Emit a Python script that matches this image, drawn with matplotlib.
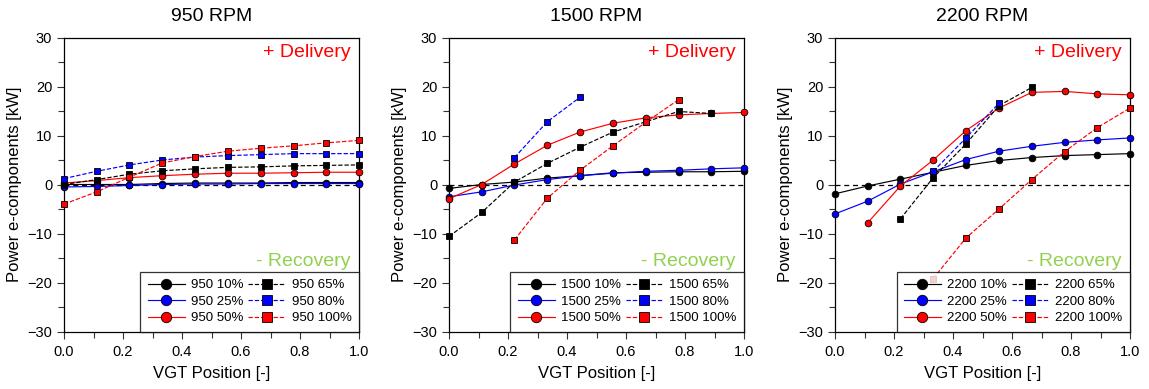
import numpy as np
import matplotlib
matplotlib.use("Agg")
import matplotlib.pyplot as plt
from matplotlib.ticker import MultipleLocator, FormatStrFormatter

plt.rcParams['font.family'] = ['Liberation Sans', 'DejaVu Sans']

vgt = [0.0, 0.111, 0.222, 0.333, 0.444, 0.556, 0.667, 0.778, 0.889, 1.0]

rpms = ["950", "1500", "2200"]
loads = ["10%", "25%", "50%", "65%", "80%", "100%"]

# 950 RPM
p950_10 = [0.0, 0.0, 0.0, 0.2, 0.3, 0.3, 0.3, 0.4, 0.4, 0.4]
p950_25 = [-0.5, -0.4, -0.2, 0.0, 0.1, 0.1, 0.2, 0.2, 0.2, 0.2]
p950_50 = [0.3, 0.8, 1.4, 1.8, 2.1, 2.3, 2.3, 2.4, 2.5, 2.5]
p950_65 = [0.0, 1.0, 2.1, 2.8, 3.2, 3.5, 3.6, 3.8, 3.9, 4.0]
p950_80 = [1.2, 2.7, 4.0, 5.0, 5.6, 5.9, 6.1, 6.3, 6.3, 6.3]
p950_100 = [-4.0, -1.5, 1.5, 4.4, 5.7, 6.8, 7.4, 7.9, 8.5, 9.0]

# 1500 RPM
p1500_10 = [-0.8, 0.0, 0.5, 1.3, 1.8, 2.4, 2.5, 2.6, 2.6, 2.7]
p1500_25 = [-2.5, -1.5, -0.1, 1.0, 1.8, 2.3, 2.7, 2.9, 3.2, 3.4]
p1500_50 = [-2.9, 0.0, 4.2, 8.0, 10.7, 12.5, 13.6, 14.2, 14.5, 14.7]
p1500_65 = [-10.6, -5.7, 0.5, 4.3, 7.6, 10.7, 12.8, 14.9, 14.5, None]
p1500_80 = [None, None, 5.5, 12.8, 17.8, None, None, None, None, None]
p1500_100 = [None, None, -11.3, -2.8, 2.9, 7.9, 12.7, 17.3, None, None]

# 2200 RPM
p2200_10 = [-1.9, -0.3, 1.1, 2.5, 3.9, 4.9, 5.5, 5.9, 6.1, 6.3]
p2200_25 = [-6.0, -3.4, 0.1, 2.6, 5.1, 6.8, 7.8, 8.6, 9.1, 9.5]
p2200_50 = [None, -7.8, -0.3, 5.0, 11.0, 15.6, 18.8, 19.0, 18.5, 18.3]
p2200_65 = [None, None, -7.0, 1.4, 8.3, 16.1, 19.8, None, None, None]
p2200_80 = [None, None, None, 2.7, 9.5, 16.6, None, None, None, None]
p2200_100 = [None, None, None, -19.2, -10.9, -5.0, 1.0, 6.7, 11.6, 15.6]

data = {
    "950": [p950_10, p950_25, p950_50, p950_65, p950_80, p950_100],
    "1500": [p1500_10, p1500_25, p1500_50, p1500_65, p1500_80, p1500_100],
    "2200": [p2200_10, p2200_25, p2200_50, p2200_65, p2200_80, p2200_100],
}

colors = ["black", "#0000ff", "#ff0000", "black", "#0000ff", "#ff0000"]
markers = ["o", "o", "o", "s", "s", "s"]
styles = ["-", "-", "-", "--", "--", "--"]

fig = plt.figure(figsize=(11.49, 3.89), dpi=100)
W, H = 1149, 389
lefts = [64, 449, 835]
aw = 295
top, bot = 37.5, 331.5

for i, rpm in enumerate(rpms):
    ax = fig.add_axes([lefts[i] / W, 1 - bot / H, aw / W, (bot - top) / H])
    ax.axhline(0, color="black", ls="--", lw=0.9, dashes=(4, 3), zorder=1)
    handles = []
    for j, load in enumerate(loads):
        y = np.array([np.nan if v is None else v for v in data[rpm][j]], dtype=float)
        ms = 4.8 if markers[j] == "o" else 4.5
        ax.plot(vgt, y, color=colors[j], ls=styles[j], lw=0.85,
                marker=markers[j], markersize=ms, markerfacecolor=colors[j],
                markeredgecolor="black", markeredgewidth=0.6, zorder=3,
                clip_on=False)
        h, = ax.plot([], [], color=colors[j], ls=styles[j], lw=0.85,
                     marker=markers[j], markersize=7.5 if markers[j] == "o" else 6.5,
                     markerfacecolor=colors[j], markeredgecolor="black",
                     markeredgewidth=0.6, label=f"{rpm} {load}")
        handles.append(h)
    ax.set_xlim(0, 1)
    ax.set_ylim(-30, 30)
    ax.xaxis.set_major_locator(MultipleLocator(0.2))
    ax.xaxis.set_minor_locator(MultipleLocator(0.1))
    ax.yaxis.set_major_locator(MultipleLocator(10))
    ax.yaxis.set_minor_locator(MultipleLocator(5))
    ax.xaxis.set_major_formatter(FormatStrFormatter("%.1f"))
    ax.tick_params(which="both", direction="out", labelsize=10.5, width=0.8, color="#333333")
    ax.tick_params(which="major", length=5)
    ax.tick_params(which="minor", length=4)
    ax.tick_params(axis="x", pad=5)
    for s in ax.spines.values():
        s.set_linewidth(0.9)
    ax.set_xlabel("VGT Position [-]", fontsize=12, labelpad=5)
    ax.set_ylabel("Power e-components [kW]", fontsize=12)
    ax.set_title(f"{rpm} RPM", fontsize=14, pad=12)
    ax.text(0.97, 0.977, "+ Delivery", color="#ff0000", fontsize=14,
            ha="right", va="top", transform=ax.transAxes)
    ax.text(0.97, 0.268, "- Recovery", color="#92d050", fontsize=14,
            ha="right", va="top", transform=ax.transAxes)
    leg = ax.legend(handles, [h.get_label() for h in handles], loc="lower right",
                    ncol=2, fontsize=9.5, frameon=True, fancybox=False,
                    edgecolor="black", borderaxespad=0.0, handlelength=2.8,
                    columnspacing=0.35, handletextpad=0.5, labelspacing=0.32,
                    borderpad=0.55)
    leg.get_frame().set_linewidth(0.9)

fig.savefig("out.png", dpi=100)
